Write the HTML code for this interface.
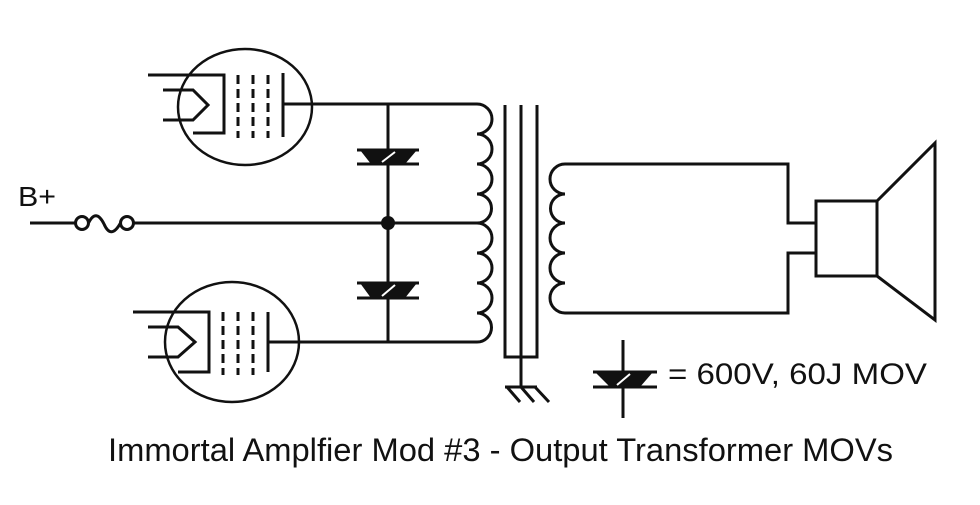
<!DOCTYPE html>
<html>
<head>
<meta charset="utf-8">
<style>
  html, body { margin: 0; padding: 0; background: #fff; }
  body { width: 980px; height: 505px; overflow: hidden; }
  svg { display: block; }
  text { font-family: "Liberation Sans", Arial, sans-serif; fill: #111; }
</style>
</head>
<body>
<svg width="980" height="505" viewBox="0 0 980 505" xmlns="http://www.w3.org/2000/svg">
  <rect width="980" height="505" fill="#fff"/>
  <g fill="none" stroke="#111" stroke-width="3" stroke-linejoin="miter">
    <!-- Upper tube -->
    <ellipse cx="245" cy="107" rx="67" ry="58" stroke-width="2.5"/>
    <polyline points="148,75 224,75 224,133 193,133"/>
    <polyline points="163,90 193,90 208,105 193,120 163,120"/>
    <g stroke-dasharray="9,5" stroke-width="3">
      <line x1="238" y1="75" x2="238" y2="138"/>
      <line x1="253" y1="75" x2="253" y2="138"/>
      <line x1="268" y1="75" x2="268" y2="138"/>
    </g>
    <line x1="283" y1="73" x2="283" y2="137"/>
    <line x1="283" y1="104" x2="477" y2="104"/>

    <!-- Lower tube -->
    <ellipse cx="232" cy="342" rx="67" ry="60" stroke-width="2.5"/>
    <polyline points="133,312 209,312 209,372 178,372"/>
    <polyline points="148,327 178,327 195,342 178,357 148,357"/>
    <g stroke-dasharray="9,5" stroke-width="3">
      <line x1="223" y1="312" x2="223" y2="375"/>
      <line x1="238" y1="312" x2="238" y2="375"/>
      <line x1="253" y1="312" x2="253" y2="375"/>
    </g>
    <line x1="268" y1="312" x2="268" y2="372"/>
    <line x1="268" y1="342" x2="477" y2="342"/>

    <!-- B+ line and fuse -->
    <line x1="30" y1="223" x2="75.5" y2="223"/>
    <circle cx="82" cy="223" r="6.5"/>
    <path d="M88.5,223 Q96,208 104,224 Q111,240 120.5,223"/>
    <circle cx="127" cy="223" r="6.5"/>
    <line x1="133.5" y1="223" x2="477" y2="223"/>

    <!-- MOV vertical wire -->
    <line x1="388" y1="104" x2="388" y2="342"/>

    <!-- Primary coil -->
    <path d="M477,104 A15,15 0 0 1 477,134 A15,15 0 0 1 477,164 A15,15 0 0 1 477,194 A14.5,14.5 0 0 1 477,223 A15,15 0 0 1 477,253 A15,15 0 0 1 477,283 A15,15 0 0 1 477,313 A14.5,14.5 0 0 1 477,342"/>

    <!-- Transformer core -->
    <line x1="505" y1="105" x2="505" y2="357"/>
    <line x1="521" y1="105" x2="521" y2="387"/>
    <line x1="537" y1="105" x2="537" y2="357"/>
    <line x1="503.5" y1="357" x2="538.5" y2="357"/>
    <!-- ground -->
    <line x1="505" y1="387" x2="537" y2="387"/>
    <line x1="507" y1="387" x2="520" y2="402"/>
    <line x1="521" y1="387" x2="534" y2="402"/>
    <line x1="535" y1="387" x2="549" y2="402"/>

    <!-- Secondary coil -->
    <path d="M565,164 A15,15 0 0 0 565,194 A14.5,14.5 0 0 0 565,223 A15,15 0 0 0 565,253 A15,15 0 0 0 565,283 A15,15 0 0 0 565,313"/>
    <polyline points="565,164 788,164 788,223 816,223"/>
    <polyline points="565,313 788,313 788,253 816,253"/>

    <!-- Speaker -->
    <rect x="816" y="201" width="61" height="75"/>
    <polyline points="877,201 935,143 935,320 877,276"/>

    <!-- Legend MOV wire -->
    <line x1="623" y1="340" x2="623" y2="418"/>
  </g>

  <!-- Junction dot -->
  <circle cx="388" cy="223" r="7" fill="#111"/>

  <!-- Upper MOV -->
  <g>
    <line x1="357" y1="150" x2="419" y2="150" stroke="#111" stroke-width="3"/>
    <line x1="357" y1="164" x2="419" y2="164" stroke="#111" stroke-width="3"/>
    <polygon points="360,150 417,150 405,164 371,164" fill="#111"/>
    <line x1="382" y1="162" x2="395" y2="152" stroke="#fff" stroke-width="2"/>
  </g>
  <!-- Lower MOV -->
  <g>
    <line x1="357" y1="283" x2="419" y2="283" stroke="#111" stroke-width="3"/>
    <line x1="357" y1="298" x2="419" y2="298" stroke="#111" stroke-width="3"/>
    <polygon points="360,283 417,283 405,298 371,298" fill="#111"/>
    <line x1="382" y1="296" x2="395" y2="285" stroke="#fff" stroke-width="2"/>
  </g>
  <!-- Legend MOV -->
  <g>
    <line x1="593" y1="372" x2="657" y2="372" stroke="#111" stroke-width="3"/>
    <line x1="593" y1="387" x2="657" y2="387" stroke="#111" stroke-width="3"/>
    <polygon points="595,372 653,372 640,387 610,387" fill="#111"/>
    <line x1="617" y1="385" x2="630" y2="374" stroke="#fff" stroke-width="2"/>
  </g>

  <!-- Text -->
  <text x="18" y="206" font-size="28" textLength="38" lengthAdjust="spacingAndGlyphs">B+</text>
  <text x="668" y="384" font-size="30" textLength="259" lengthAdjust="spacingAndGlyphs">= 600V, 60J MOV</text>
  <text x="108" y="461" font-size="32" textLength="785" lengthAdjust="spacingAndGlyphs">Immortal Amplfier Mod #3 - Output Transformer MOVs</text>
</svg>
</body>
</html>
